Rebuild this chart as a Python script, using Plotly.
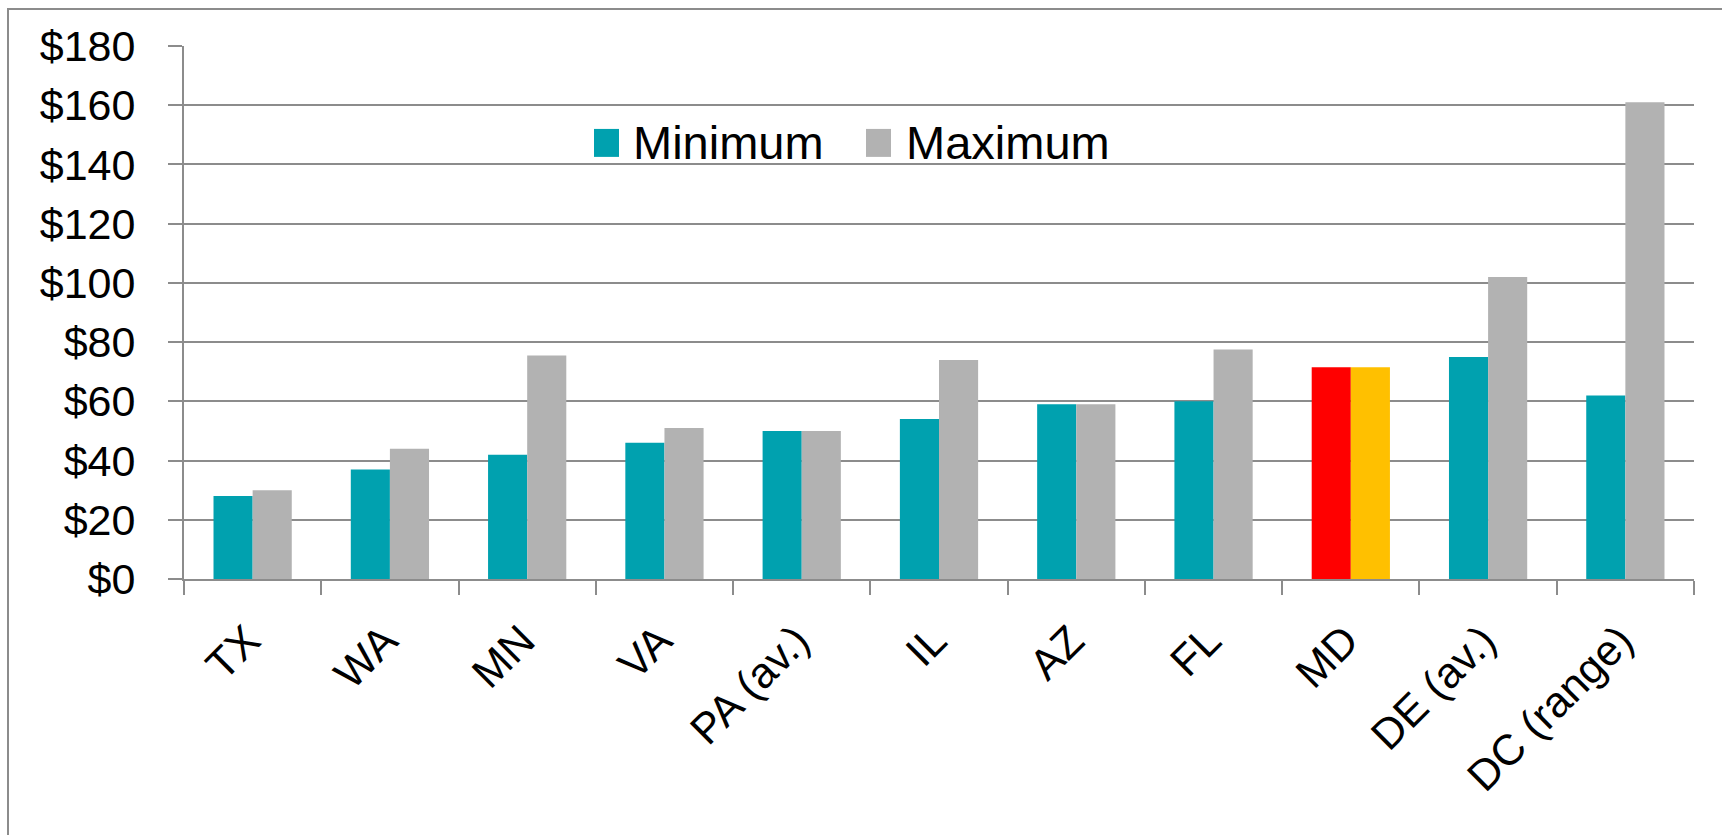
import plotly.graph_objects as go

categories = ["TX", "WA", "MN", "VA", "PA (av.)", "IL", "AZ", "FL", "MD", "DE (av.)", "DC (range)"]
minimum = [28, 37, 42, 46, 50, 54, 59, 60, 71.5, 75, 62]
maximum = [30, 44, 75.5, 51, 50, 74, 59, 77.5, 71.5, 102, 161]
y_ticks = [0, 20, 40, 60, 80, 100, 120, 140, 160, 180]
y_tick_labels = ["$0", "$20", "$40", "$60", "$80", "$100", "$120", "$140", "$160", "$180"]

TEAL = "#00A1AF"
GRAY = "#B2B2B2"
HIGHLIGHT = "MD"
min_colors = ["#FF0000" if c == HIGHLIGHT else TEAL for c in categories]
max_colors = ["#FFC000" if c == HIGHLIGHT else GRAY for c in categories]

W, H = 1722, 835
ML, MR, MT, MB = 184, 28, 46, 255.5
PW = W - ML - MR
PH = H - MT - MB


def px(x):
    return (x - ML) / PW


def py(y):
    return (H - MB - y) / PH


FONT = "Liberation Sans, Arial, sans-serif"
AX = "#8C8C8C"

fig = go.Figure()
fig.add_bar(x=categories, y=minimum, name="Minimum", marker=dict(color=min_colors, line=dict(width=0)))
fig.add_bar(x=categories, y=maximum, name="Maximum", marker=dict(color=max_colors, line=dict(width=0)))

fig.update_layout(
    width=W, height=H,
    margin=dict(l=ML, r=MR, t=MT, b=MB, autoexpand=False),
    paper_bgcolor="white", plot_bgcolor="white",
    barmode="group", bargap=0.43, bargroupgap=0,
    showlegend=False,
    font=dict(family=FONT, color="black"),
)
fig.update_xaxes(
    type="category", tickangle=-45, tickfont=dict(size=43, family=FONT, color="black"),
    showline=True, linecolor=AX, linewidth=2,
    ticks="outside", tickson="boundaries", ticklen=14, tickcolor=AX, tickwidth=2,
    showgrid=False, ticklabelshift=-5, ticklabelstandoff=17,
)
fig.update_yaxes(
    range=[0, 180], tickvals=y_ticks, ticktext=y_tick_labels,
    tickfont=dict(size=43, family=FONT, color="black"),
    showline=True, linecolor=AX, linewidth=2,
    ticks="outside", ticklen=14, tickcolor=AX, tickwidth=2,
    showgrid=True, gridcolor=AX, gridwidth=2, zeroline=False,
    ticklabelstandoff=24,
)

# outer frame (left and top edges visible)
fig.add_shape(type="rect", xref="paper", yref="paper",
              x0=px(8), x1=px(1760), y0=py(900), y1=py(9),
              line=dict(color=AX, width=2), layer="below")

# custom legend
legend_items = [("Minimum", TEAL, 594, 631), ("Maximum", GRAY, 866, 904)]
for name, col, sx, tx in legend_items:
    fig.add_shape(type="rect", xref="paper", yref="paper",
                  x0=px(sx), x1=px(sx + 25), y0=py(157), y1=py(129),
                  fillcolor=col, line=dict(width=0))
    fig.add_annotation(xref="paper", yref="paper", x=px(tx), y=py(143),
                       xanchor="left", yanchor="middle", showarrow=False,
                       text=name, font=dict(size=47, family=FONT, color="black"))

fig.write_html("out.html", config={"displayModeBar": False},
               post_script="document.body.style.margin='0';document.body.style.overflow='hidden';")
